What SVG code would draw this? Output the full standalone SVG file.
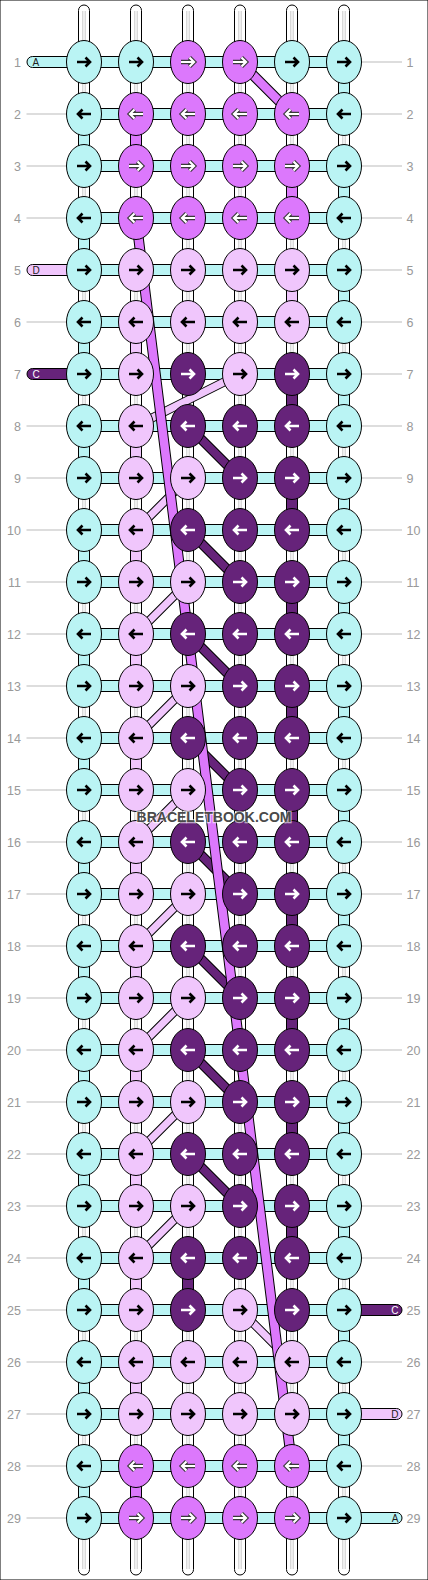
<svg xmlns="http://www.w3.org/2000/svg" xmlns:xlink="http://www.w3.org/1999/xlink" width="428" height="1580" viewBox="0 0 428 1580">
<style>
.cy{fill:#baf4f4}.mp{fill:#dc78fc}.lp{fill:#f0c6fc}.dp{fill:#66237a}.w{fill:#fff}
ellipse,rect{stroke:#000;stroke-width:1}
.gl{fill:none;stroke:#c8c8c8;stroke-width:1}
.ab{fill:none;stroke:#000;stroke-width:2.6}
.aw{fill:none;stroke:#fff;stroke-width:2.6}
.ao{fill:none;stroke:#3a3a3a;stroke-width:4.4}
.am{fill:none;stroke:#fff;stroke-width:2.2}
.o9{fill:none;stroke:#000;stroke-width:9}.lps{fill:none;stroke:#f0c6fc;stroke-width:7}
.o10{fill:none;stroke:#000;stroke-width:10}.dps{fill:none;stroke:#66237a;stroke-width:8}
.o105{fill:none;stroke:#000;stroke-width:10.5}.mps{fill:none;stroke:#dc78fc;stroke-width:8.5}
.num{font-family:"Liberation Sans",Arial,sans-serif;font-size:12.5px;fill:#999}
.tick{fill:none;stroke:#bbb;stroke-width:1}
.pl{font-family:"Liberation Sans",Arial,sans-serif;font-size:10px;fill:#222}
.plw{font-family:"Liberation Sans",Arial,sans-serif;font-size:10px;fill:#fff}
.wm{font-family:"Liberation Sans",Arial,sans-serif;font-size:15px;font-weight:bold;fill:#4a4a4a;stroke:#fff;stroke-opacity:.6;stroke-width:2.5;paint-order:stroke}
</style>
<defs>
<path id="Rb" class="ab" d="M-7 0H5M1.5-4.5L6 0L1.5 4.5"/>
<path id="Lb" class="ab" d="M7 0H-5M-1.5-4.5L-6 0L-1.5 4.5"/>
<path id="Rw" class="aw" d="M-7 0H5M1.5-4.5L6 0L1.5 4.5"/>
<path id="Lw" class="aw" d="M7 0H-5M-1.5-4.5L-6 0L-1.5 4.5"/>
<g id="Rm"><path class="ao" d="M-7 0H5M1.5-4.5L6 0L1.5 4.5"/><path class="am" d="M-7 0H5M1.5-4.5L6 0L1.5 4.5"/></g>
<g id="Lm"><path class="ao" d="M7 0H-5M-1.5-4.5L-6 0L-1.5 4.5"/><path class="am" d="M7 0H-5M-1.5-4.5L-6 0L-1.5 4.5"/></g>
<path id="dpd" d="M188 426L240 478M188 530L240 582M188 634L240 686M188 738L240 790M188 842L240 894M188 946L240 998M188 1050L240 1102M188 1154L240 1206"/>
<path id="lpd" d="M240 374L136 426M188 478L136 530M188 582L136 634M188 686L136 738M188 790L136 842M188 894L136 946M188 998L136 1050M188 1102L136 1154M188 1206L136 1258M240 1310L292 1362"/>
<path id="mpd" d="M240 62L292 114M136 218L292 1466"/>
</defs>
<rect x="0" y="0" width="428" height="1580" fill="#fff" stroke="none"/>
<g id="labels">
<path class="tick" d="M26.5 114H66.5M26.5 166H66.5M26.5 218H66.5M26.5 322H66.5M26.5 426H66.5M26.5 478H66.5M26.5 530H66.5M26.5 582H66.5M26.5 634H66.5M26.5 686H66.5M26.5 738H66.5M26.5 790H66.5M26.5 842H66.5M26.5 894H66.5M26.5 946H66.5M26.5 998H66.5M26.5 1050H66.5M26.5 1102H66.5M26.5 1154H66.5M26.5 1206H66.5M26.5 1258H66.5M26.5 1310H66.5M26.5 1362H66.5M26.5 1414H66.5M26.5 1466H66.5M26.5 1518H66.5"/>
<path class="tick" d="M361.5 62H402M361.5 114H402M361.5 166H402M361.5 218H402M361.5 270H402M361.5 322H402M361.5 374H402M361.5 426H402M361.5 478H402M361.5 530H402M361.5 582H402M361.5 634H402M361.5 686H402M361.5 738H402M361.5 790H402M361.5 842H402M361.5 894H402M361.5 946H402M361.5 998H402M361.5 1050H402M361.5 1102H402M361.5 1154H402M361.5 1206H402M361.5 1258H402M361.5 1362H402M361.5 1466H402"/>
<g class="num" text-anchor="end">
<text x="21" y="66.5">1</text><text x="21" y="118.5">2</text><text x="21" y="170.5">3</text><text x="21" y="222.5">4</text><text x="21" y="274.5">5</text><text x="21" y="326.5">6</text><text x="21" y="378.5">7</text><text x="21" y="430.5">8</text><text x="21" y="482.5">9</text><text x="21" y="534.5">10</text><text x="21" y="586.5">11</text><text x="21" y="638.5">12</text><text x="21" y="690.5">13</text><text x="21" y="742.5">14</text><text x="21" y="794.5">15</text><text x="21" y="846.5">16</text><text x="21" y="898.5">17</text><text x="21" y="950.5">18</text><text x="21" y="1002.5">19</text><text x="21" y="1054.5">20</text><text x="21" y="1106.5">21</text><text x="21" y="1158.5">22</text><text x="21" y="1210.5">23</text><text x="21" y="1262.5">24</text><text x="21" y="1314.5">25</text><text x="21" y="1366.5">26</text><text x="21" y="1418.5">27</text><text x="21" y="1470.5">28</text><text x="21" y="1522.5">29</text>
</g>
<g class="num">
<text x="406.5" y="66.5">1</text><text x="406.5" y="118.5">2</text><text x="406.5" y="170.5">3</text><text x="406.5" y="222.5">4</text><text x="406.5" y="274.5">5</text><text x="406.5" y="326.5">6</text><text x="406.5" y="378.5">7</text><text x="406.5" y="430.5">8</text><text x="406.5" y="482.5">9</text><text x="406.5" y="534.5">10</text><text x="406.5" y="586.5">11</text><text x="406.5" y="638.5">12</text><text x="406.5" y="690.5">13</text><text x="406.5" y="742.5">14</text><text x="406.5" y="794.5">15</text><text x="406.5" y="846.5">16</text><text x="406.5" y="898.5">17</text><text x="406.5" y="950.5">18</text><text x="406.5" y="1002.5">19</text><text x="406.5" y="1054.5">20</text><text x="406.5" y="1106.5">21</text><text x="406.5" y="1158.5">22</text><text x="406.5" y="1210.5">23</text><text x="406.5" y="1262.5">24</text><text x="406.5" y="1314.5">25</text><text x="406.5" y="1366.5">26</text><text x="406.5" y="1418.5">27</text><text x="406.5" y="1470.5">28</text><text x="406.5" y="1522.5">29</text>
</g>
</g>
<g id="connectors">
<g id="warps">
<rect class="w" x="78.5" y="5" width="11" height="1570" rx="5.5"/>
<rect class="w" x="130.5" y="5" width="11" height="213" rx="5.5"/>
<rect class="w" x="130.5" y="270" width="11" height="1305" rx="5.5"/>
<rect class="w" x="182.5" y="5" width="11" height="1570" rx="5.5"/>
<rect class="w" x="234.5" y="5" width="11" height="1570" rx="5.5"/>
<rect class="w" x="286.5" y="5" width="11" height="1409" rx="5.5"/>
<rect class="w" x="286.5" y="1466" width="11" height="109" rx="5.5"/>
<rect class="w" x="338.5" y="5" width="11" height="1570" rx="5.5"/>
<path class="gl" d="M82.8 11V1569M85.2 11V1569M134.8 11V1569M137.2 11V1569M186.8 11V1569M189.2 11V1569M238.8 11V1569M241.2 11V1569M290.8 11V1569M293.2 11V1569M342.8 11V1569M345.2 11V1569"/>
</g>
<g id="rows" class="cy">
<rect x="84" y="56.5" width="260" height="11"/><rect x="84" y="108.5" width="260" height="11"/><rect x="84" y="160.5" width="260" height="11"/><rect x="84" y="212.5" width="260" height="11"/><rect x="84" y="264.5" width="260" height="11"/><rect x="84" y="316.5" width="260" height="11"/><rect x="84" y="368.5" width="260" height="11"/><rect x="84" y="420.5" width="260" height="11"/><rect x="84" y="472.5" width="260" height="11"/><rect x="84" y="524.5" width="260" height="11"/><rect x="84" y="576.5" width="260" height="11"/><rect x="84" y="628.5" width="260" height="11"/><rect x="84" y="680.5" width="260" height="11"/><rect x="84" y="732.5" width="260" height="11"/><rect x="84" y="784.5" width="260" height="11"/><rect x="84" y="836.5" width="260" height="11"/><rect x="84" y="888.5" width="260" height="11"/><rect x="84" y="940.5" width="260" height="11"/><rect x="84" y="992.5" width="260" height="11"/><rect x="84" y="1044.5" width="260" height="11"/><rect x="84" y="1096.5" width="260" height="11"/><rect x="84" y="1148.5" width="260" height="11"/><rect x="84" y="1200.5" width="260" height="11"/><rect x="84" y="1252.5" width="260" height="11"/><rect x="84" y="1304.5" width="260" height="11"/><rect x="84" y="1356.5" width="260" height="11"/><rect x="84" y="1408.5" width="260" height="11"/><rect x="84" y="1460.5" width="260" height="11"/><rect x="84" y="1512.5" width="260" height="11"/>
</g>
<g id="turns-cy" class="cy">
<rect x="338.5" y="62" width="11" height="52"/><rect x="338.5" y="166" width="11" height="52"/><rect x="338.5" y="270" width="11" height="52"/><rect x="338.5" y="374" width="11" height="52"/><rect x="338.5" y="478" width="11" height="52"/><rect x="338.5" y="582" width="11" height="52"/><rect x="338.5" y="686" width="11" height="52"/><rect x="338.5" y="790" width="11" height="52"/><rect x="338.5" y="894" width="11" height="52"/><rect x="338.5" y="998" width="11" height="52"/><rect x="338.5" y="1102" width="11" height="52"/><rect x="338.5" y="1206" width="11" height="52"/><rect x="338.5" y="1310" width="11" height="52"/><rect x="338.5" y="1414" width="11" height="52"/>
<rect x="78.5" y="114" width="11" height="52"/><rect x="78.5" y="218" width="11" height="52"/><rect x="78.5" y="322" width="11" height="52"/><rect x="78.5" y="426" width="11" height="52"/><rect x="78.5" y="530" width="11" height="52"/><rect x="78.5" y="634" width="11" height="52"/><rect x="78.5" y="738" width="11" height="52"/><rect x="78.5" y="842" width="11" height="52"/><rect x="78.5" y="946" width="11" height="52"/><rect x="78.5" y="1050" width="11" height="52"/><rect x="78.5" y="1154" width="11" height="52"/><rect x="78.5" y="1258" width="11" height="52"/><rect x="78.5" y="1362" width="11" height="52"/><rect x="78.5" y="1466" width="11" height="52"/>
</g>
<g id="turns-mp" class="mp">
<rect x="130.5" y="114" width="11" height="52"/><rect x="286.5" y="166" width="11" height="52"/><rect x="130.5" y="1466" width="11" height="52"/>
</g>
<g id="turns-lp" class="lp">
<rect x="286.5" y="270" width="11" height="52"/><rect x="130.5" y="322" width="11" height="52"/><rect x="130.5" y="426" width="11" height="52"/><rect x="130.5" y="530" width="11" height="52"/><rect x="130.5" y="634" width="11" height="52"/><rect x="130.5" y="738" width="11" height="52"/><rect x="130.5" y="842" width="11" height="52"/><rect x="130.5" y="946" width="11" height="52"/><rect x="130.5" y="1050" width="11" height="52"/><rect x="130.5" y="1154" width="11" height="52"/><rect x="130.5" y="1258" width="11" height="52"/><rect x="130.5" y="1362" width="11" height="52"/>
</g>
<g id="turns-dp" class="dp">
<rect x="286.5" y="374" width="11" height="52"/><rect x="286.5" y="478" width="11" height="52"/><rect x="286.5" y="582" width="11" height="52"/><rect x="286.5" y="686" width="11" height="52"/><rect x="286.5" y="790" width="11" height="52"/><rect x="286.5" y="894" width="11" height="52"/><rect x="286.5" y="998" width="11" height="52"/><rect x="286.5" y="1102" width="11" height="52"/><rect x="286.5" y="1206" width="11" height="52"/><rect x="182.5" y="1258" width="11" height="52"/>
</g>
<g id="diagonals">
<use href="#lpd" class="o9"/><use href="#lpd" class="lps"/>
<use href="#dpd" class="o10"/><use href="#dpd" class="dps"/>
<use href="#mpd" class="o105"/><use href="#mpd" class="mps"/>
</g>
<g id="ends">
<rect class="cy" x="27" y="56.5" width="50" height="11" rx="5.5"/><text class="pl" x="32.5" y="65.6">A</text>
<rect class="lp" x="27" y="264.5" width="50" height="11" rx="5.5"/><text class="pl" x="32.5" y="273.6">D</text>
<rect class="dp" x="27" y="368.5" width="50" height="11" rx="5.5"/><text class="plw" x="32.5" y="377.6">C</text>
<rect class="dp" x="351" y="1304.5" width="51" height="11" rx="5.5"/><text class="plw" x="398.5" y="1313.6" text-anchor="end">C</text>
<rect class="lp" x="351" y="1408.5" width="51" height="11" rx="5.5"/><text class="pl" x="398.5" y="1417.6" text-anchor="end">D</text>
<rect class="cy" x="351" y="1512.5" width="51" height="11" rx="5.5"/><text class="pl" x="398.5" y="1521.6" text-anchor="end">A</text>
</g>
</g>
<g id="knots">
<g id="n1-1" transform="translate(84 62)"><ellipse class="cy" rx="17.5" ry="21.5"/><use href="#Rb"/></g>
<g id="n1-2" transform="translate(136 62)"><ellipse class="cy" rx="17.5" ry="21.5"/><use href="#Rb"/></g>
<g id="n1-3" transform="translate(188 62)"><ellipse class="mp" rx="17.5" ry="21.5"/><use href="#Rm"/></g>
<g id="n1-4" transform="translate(240 62)"><ellipse class="mp" rx="17.5" ry="21.5"/><use href="#Rm"/></g>
<g id="n1-5" transform="translate(292 62)"><ellipse class="cy" rx="17.5" ry="21.5"/><use href="#Rb"/></g>
<g id="n1-6" transform="translate(344 62)"><ellipse class="cy" rx="17.5" ry="21.5"/><use href="#Rb"/></g>
<g id="n2-1" transform="translate(84 114)"><ellipse class="cy" rx="17.5" ry="21.5"/><use href="#Lb"/></g>
<g id="n2-2" transform="translate(136 114)"><ellipse class="mp" rx="17.5" ry="21.5"/><use href="#Lm"/></g>
<g id="n2-3" transform="translate(188 114)"><ellipse class="mp" rx="17.5" ry="21.5"/><use href="#Lm"/></g>
<g id="n2-4" transform="translate(240 114)"><ellipse class="mp" rx="17.5" ry="21.5"/><use href="#Lm"/></g>
<g id="n2-5" transform="translate(292 114)"><ellipse class="mp" rx="17.5" ry="21.5"/><use href="#Lm"/></g>
<g id="n2-6" transform="translate(344 114)"><ellipse class="cy" rx="17.5" ry="21.5"/><use href="#Lb"/></g>
<g id="n3-1" transform="translate(84 166)"><ellipse class="cy" rx="17.5" ry="21.5"/><use href="#Rb"/></g>
<g id="n3-2" transform="translate(136 166)"><ellipse class="mp" rx="17.5" ry="21.5"/><use href="#Rm"/></g>
<g id="n3-3" transform="translate(188 166)"><ellipse class="mp" rx="17.5" ry="21.5"/><use href="#Rm"/></g>
<g id="n3-4" transform="translate(240 166)"><ellipse class="mp" rx="17.5" ry="21.5"/><use href="#Rm"/></g>
<g id="n3-5" transform="translate(292 166)"><ellipse class="mp" rx="17.5" ry="21.5"/><use href="#Rm"/></g>
<g id="n3-6" transform="translate(344 166)"><ellipse class="cy" rx="17.5" ry="21.5"/><use href="#Rb"/></g>
<g id="n4-1" transform="translate(84 218)"><ellipse class="cy" rx="17.5" ry="21.5"/><use href="#Lb"/></g>
<g id="n4-2" transform="translate(136 218)"><ellipse class="mp" rx="17.5" ry="21.5"/><use href="#Lm"/></g>
<g id="n4-3" transform="translate(188 218)"><ellipse class="mp" rx="17.5" ry="21.5"/><use href="#Lm"/></g>
<g id="n4-4" transform="translate(240 218)"><ellipse class="mp" rx="17.5" ry="21.5"/><use href="#Lm"/></g>
<g id="n4-5" transform="translate(292 218)"><ellipse class="mp" rx="17.5" ry="21.5"/><use href="#Lm"/></g>
<g id="n4-6" transform="translate(344 218)"><ellipse class="cy" rx="17.5" ry="21.5"/><use href="#Lb"/></g>
<g id="n5-1" transform="translate(84 270)"><ellipse class="cy" rx="17.5" ry="21.5"/><use href="#Rb"/></g>
<g id="n5-2" transform="translate(136 270)"><ellipse class="lp" rx="17.5" ry="21.5"/><use href="#Rb"/></g>
<g id="n5-3" transform="translate(188 270)"><ellipse class="lp" rx="17.5" ry="21.5"/><use href="#Rb"/></g>
<g id="n5-4" transform="translate(240 270)"><ellipse class="lp" rx="17.5" ry="21.5"/><use href="#Rb"/></g>
<g id="n5-5" transform="translate(292 270)"><ellipse class="lp" rx="17.5" ry="21.5"/><use href="#Rb"/></g>
<g id="n5-6" transform="translate(344 270)"><ellipse class="cy" rx="17.5" ry="21.5"/><use href="#Rb"/></g>
<g id="n6-1" transform="translate(84 322)"><ellipse class="cy" rx="17.5" ry="21.5"/><use href="#Lb"/></g>
<g id="n6-2" transform="translate(136 322)"><ellipse class="lp" rx="17.5" ry="21.5"/><use href="#Lb"/></g>
<g id="n6-3" transform="translate(188 322)"><ellipse class="lp" rx="17.5" ry="21.5"/><use href="#Lb"/></g>
<g id="n6-4" transform="translate(240 322)"><ellipse class="lp" rx="17.5" ry="21.5"/><use href="#Lb"/></g>
<g id="n6-5" transform="translate(292 322)"><ellipse class="lp" rx="17.5" ry="21.5"/><use href="#Lb"/></g>
<g id="n6-6" transform="translate(344 322)"><ellipse class="cy" rx="17.5" ry="21.5"/><use href="#Lb"/></g>
<g id="n7-1" transform="translate(84 374)"><ellipse class="cy" rx="17.5" ry="21.5"/><use href="#Rb"/></g>
<g id="n7-2" transform="translate(136 374)"><ellipse class="lp" rx="17.5" ry="21.5"/><use href="#Rb"/></g>
<g id="n7-3" transform="translate(188 374)"><ellipse class="dp" rx="17.5" ry="21.5"/><use href="#Rw"/></g>
<g id="n7-4" transform="translate(240 374)"><ellipse class="lp" rx="17.5" ry="21.5"/><use href="#Rb"/></g>
<g id="n7-5" transform="translate(292 374)"><ellipse class="dp" rx="17.5" ry="21.5"/><use href="#Rw"/></g>
<g id="n7-6" transform="translate(344 374)"><ellipse class="cy" rx="17.5" ry="21.5"/><use href="#Rb"/></g>
<g id="n8-1" transform="translate(84 426)"><ellipse class="cy" rx="17.5" ry="21.5"/><use href="#Lb"/></g>
<g id="n8-2" transform="translate(136 426)"><ellipse class="lp" rx="17.5" ry="21.5"/><use href="#Lb"/></g>
<g id="n8-3" transform="translate(188 426)"><ellipse class="dp" rx="17.5" ry="21.5"/><use href="#Lw"/></g>
<g id="n8-4" transform="translate(240 426)"><ellipse class="dp" rx="17.5" ry="21.5"/><use href="#Lw"/></g>
<g id="n8-5" transform="translate(292 426)"><ellipse class="dp" rx="17.5" ry="21.5"/><use href="#Lw"/></g>
<g id="n8-6" transform="translate(344 426)"><ellipse class="cy" rx="17.5" ry="21.5"/><use href="#Lb"/></g>
<g id="n9-1" transform="translate(84 478)"><ellipse class="cy" rx="17.5" ry="21.5"/><use href="#Rb"/></g>
<g id="n9-2" transform="translate(136 478)"><ellipse class="lp" rx="17.5" ry="21.5"/><use href="#Rb"/></g>
<g id="n9-3" transform="translate(188 478)"><ellipse class="lp" rx="17.5" ry="21.5"/><use href="#Rb"/></g>
<g id="n9-4" transform="translate(240 478)"><ellipse class="dp" rx="17.5" ry="21.5"/><use href="#Rw"/></g>
<g id="n9-5" transform="translate(292 478)"><ellipse class="dp" rx="17.5" ry="21.5"/><use href="#Rw"/></g>
<g id="n9-6" transform="translate(344 478)"><ellipse class="cy" rx="17.5" ry="21.5"/><use href="#Rb"/></g>
<g id="n10-1" transform="translate(84 530)"><ellipse class="cy" rx="17.5" ry="21.5"/><use href="#Lb"/></g>
<g id="n10-2" transform="translate(136 530)"><ellipse class="lp" rx="17.5" ry="21.5"/><use href="#Lb"/></g>
<g id="n10-3" transform="translate(188 530)"><ellipse class="dp" rx="17.5" ry="21.5"/><use href="#Lw"/></g>
<g id="n10-4" transform="translate(240 530)"><ellipse class="dp" rx="17.5" ry="21.5"/><use href="#Lw"/></g>
<g id="n10-5" transform="translate(292 530)"><ellipse class="dp" rx="17.5" ry="21.5"/><use href="#Lw"/></g>
<g id="n10-6" transform="translate(344 530)"><ellipse class="cy" rx="17.5" ry="21.5"/><use href="#Lb"/></g>
<g id="n11-1" transform="translate(84 582)"><ellipse class="cy" rx="17.5" ry="21.5"/><use href="#Rb"/></g>
<g id="n11-2" transform="translate(136 582)"><ellipse class="lp" rx="17.5" ry="21.5"/><use href="#Rb"/></g>
<g id="n11-3" transform="translate(188 582)"><ellipse class="lp" rx="17.5" ry="21.5"/><use href="#Rb"/></g>
<g id="n11-4" transform="translate(240 582)"><ellipse class="dp" rx="17.5" ry="21.5"/><use href="#Rw"/></g>
<g id="n11-5" transform="translate(292 582)"><ellipse class="dp" rx="17.5" ry="21.5"/><use href="#Rw"/></g>
<g id="n11-6" transform="translate(344 582)"><ellipse class="cy" rx="17.5" ry="21.5"/><use href="#Rb"/></g>
<g id="n12-1" transform="translate(84 634)"><ellipse class="cy" rx="17.5" ry="21.5"/><use href="#Lb"/></g>
<g id="n12-2" transform="translate(136 634)"><ellipse class="lp" rx="17.5" ry="21.5"/><use href="#Lb"/></g>
<g id="n12-3" transform="translate(188 634)"><ellipse class="dp" rx="17.5" ry="21.5"/><use href="#Lw"/></g>
<g id="n12-4" transform="translate(240 634)"><ellipse class="dp" rx="17.5" ry="21.5"/><use href="#Lw"/></g>
<g id="n12-5" transform="translate(292 634)"><ellipse class="dp" rx="17.5" ry="21.5"/><use href="#Lw"/></g>
<g id="n12-6" transform="translate(344 634)"><ellipse class="cy" rx="17.5" ry="21.5"/><use href="#Lb"/></g>
<g id="n13-1" transform="translate(84 686)"><ellipse class="cy" rx="17.5" ry="21.5"/><use href="#Rb"/></g>
<g id="n13-2" transform="translate(136 686)"><ellipse class="lp" rx="17.5" ry="21.5"/><use href="#Rb"/></g>
<g id="n13-3" transform="translate(188 686)"><ellipse class="lp" rx="17.5" ry="21.5"/><use href="#Rb"/></g>
<g id="n13-4" transform="translate(240 686)"><ellipse class="dp" rx="17.5" ry="21.5"/><use href="#Rw"/></g>
<g id="n13-5" transform="translate(292 686)"><ellipse class="dp" rx="17.5" ry="21.5"/><use href="#Rw"/></g>
<g id="n13-6" transform="translate(344 686)"><ellipse class="cy" rx="17.5" ry="21.5"/><use href="#Rb"/></g>
<g id="n14-1" transform="translate(84 738)"><ellipse class="cy" rx="17.5" ry="21.5"/><use href="#Lb"/></g>
<g id="n14-2" transform="translate(136 738)"><ellipse class="lp" rx="17.5" ry="21.5"/><use href="#Lb"/></g>
<g id="n14-3" transform="translate(188 738)"><ellipse class="dp" rx="17.5" ry="21.5"/><use href="#Lw"/></g>
<g id="n14-4" transform="translate(240 738)"><ellipse class="dp" rx="17.5" ry="21.5"/><use href="#Lw"/></g>
<g id="n14-5" transform="translate(292 738)"><ellipse class="dp" rx="17.5" ry="21.5"/><use href="#Lw"/></g>
<g id="n14-6" transform="translate(344 738)"><ellipse class="cy" rx="17.5" ry="21.5"/><use href="#Lb"/></g>
<g id="n15-1" transform="translate(84 790)"><ellipse class="cy" rx="17.5" ry="21.5"/><use href="#Rb"/></g>
<g id="n15-2" transform="translate(136 790)"><ellipse class="lp" rx="17.5" ry="21.5"/><use href="#Rb"/></g>
<g id="n15-3" transform="translate(188 790)"><ellipse class="lp" rx="17.5" ry="21.5"/><use href="#Rb"/></g>
<g id="n15-4" transform="translate(240 790)"><ellipse class="dp" rx="17.5" ry="21.5"/><use href="#Rw"/></g>
<g id="n15-5" transform="translate(292 790)"><ellipse class="dp" rx="17.5" ry="21.5"/><use href="#Rw"/></g>
<g id="n15-6" transform="translate(344 790)"><ellipse class="cy" rx="17.5" ry="21.5"/><use href="#Rb"/></g>
<g id="n16-1" transform="translate(84 842)"><ellipse class="cy" rx="17.5" ry="21.5"/><use href="#Lb"/></g>
<g id="n16-2" transform="translate(136 842)"><ellipse class="lp" rx="17.5" ry="21.5"/><use href="#Lb"/></g>
<g id="n16-3" transform="translate(188 842)"><ellipse class="dp" rx="17.5" ry="21.5"/><use href="#Lw"/></g>
<g id="n16-4" transform="translate(240 842)"><ellipse class="dp" rx="17.5" ry="21.5"/><use href="#Lw"/></g>
<g id="n16-5" transform="translate(292 842)"><ellipse class="dp" rx="17.5" ry="21.5"/><use href="#Lw"/></g>
<g id="n16-6" transform="translate(344 842)"><ellipse class="cy" rx="17.5" ry="21.5"/><use href="#Lb"/></g>
<g id="n17-1" transform="translate(84 894)"><ellipse class="cy" rx="17.5" ry="21.5"/><use href="#Rb"/></g>
<g id="n17-2" transform="translate(136 894)"><ellipse class="lp" rx="17.5" ry="21.5"/><use href="#Rb"/></g>
<g id="n17-3" transform="translate(188 894)"><ellipse class="lp" rx="17.5" ry="21.5"/><use href="#Rb"/></g>
<g id="n17-4" transform="translate(240 894)"><ellipse class="dp" rx="17.5" ry="21.5"/><use href="#Rw"/></g>
<g id="n17-5" transform="translate(292 894)"><ellipse class="dp" rx="17.5" ry="21.5"/><use href="#Rw"/></g>
<g id="n17-6" transform="translate(344 894)"><ellipse class="cy" rx="17.5" ry="21.5"/><use href="#Rb"/></g>
<g id="n18-1" transform="translate(84 946)"><ellipse class="cy" rx="17.5" ry="21.5"/><use href="#Lb"/></g>
<g id="n18-2" transform="translate(136 946)"><ellipse class="lp" rx="17.5" ry="21.5"/><use href="#Lb"/></g>
<g id="n18-3" transform="translate(188 946)"><ellipse class="dp" rx="17.5" ry="21.5"/><use href="#Lw"/></g>
<g id="n18-4" transform="translate(240 946)"><ellipse class="dp" rx="17.5" ry="21.5"/><use href="#Lw"/></g>
<g id="n18-5" transform="translate(292 946)"><ellipse class="dp" rx="17.5" ry="21.5"/><use href="#Lw"/></g>
<g id="n18-6" transform="translate(344 946)"><ellipse class="cy" rx="17.5" ry="21.5"/><use href="#Lb"/></g>
<g id="n19-1" transform="translate(84 998)"><ellipse class="cy" rx="17.5" ry="21.5"/><use href="#Rb"/></g>
<g id="n19-2" transform="translate(136 998)"><ellipse class="lp" rx="17.5" ry="21.5"/><use href="#Rb"/></g>
<g id="n19-3" transform="translate(188 998)"><ellipse class="lp" rx="17.5" ry="21.5"/><use href="#Rb"/></g>
<g id="n19-4" transform="translate(240 998)"><ellipse class="dp" rx="17.5" ry="21.5"/><use href="#Rw"/></g>
<g id="n19-5" transform="translate(292 998)"><ellipse class="dp" rx="17.5" ry="21.5"/><use href="#Rw"/></g>
<g id="n19-6" transform="translate(344 998)"><ellipse class="cy" rx="17.5" ry="21.5"/><use href="#Rb"/></g>
<g id="n20-1" transform="translate(84 1050)"><ellipse class="cy" rx="17.5" ry="21.5"/><use href="#Lb"/></g>
<g id="n20-2" transform="translate(136 1050)"><ellipse class="lp" rx="17.5" ry="21.5"/><use href="#Lb"/></g>
<g id="n20-3" transform="translate(188 1050)"><ellipse class="dp" rx="17.5" ry="21.5"/><use href="#Lw"/></g>
<g id="n20-4" transform="translate(240 1050)"><ellipse class="dp" rx="17.5" ry="21.5"/><use href="#Lw"/></g>
<g id="n20-5" transform="translate(292 1050)"><ellipse class="dp" rx="17.5" ry="21.5"/><use href="#Lw"/></g>
<g id="n20-6" transform="translate(344 1050)"><ellipse class="cy" rx="17.5" ry="21.5"/><use href="#Lb"/></g>
<g id="n21-1" transform="translate(84 1102)"><ellipse class="cy" rx="17.5" ry="21.5"/><use href="#Rb"/></g>
<g id="n21-2" transform="translate(136 1102)"><ellipse class="lp" rx="17.5" ry="21.5"/><use href="#Rb"/></g>
<g id="n21-3" transform="translate(188 1102)"><ellipse class="lp" rx="17.5" ry="21.5"/><use href="#Rb"/></g>
<g id="n21-4" transform="translate(240 1102)"><ellipse class="dp" rx="17.5" ry="21.5"/><use href="#Rw"/></g>
<g id="n21-5" transform="translate(292 1102)"><ellipse class="dp" rx="17.5" ry="21.5"/><use href="#Rw"/></g>
<g id="n21-6" transform="translate(344 1102)"><ellipse class="cy" rx="17.5" ry="21.5"/><use href="#Rb"/></g>
<g id="n22-1" transform="translate(84 1154)"><ellipse class="cy" rx="17.5" ry="21.5"/><use href="#Lb"/></g>
<g id="n22-2" transform="translate(136 1154)"><ellipse class="lp" rx="17.5" ry="21.5"/><use href="#Lb"/></g>
<g id="n22-3" transform="translate(188 1154)"><ellipse class="dp" rx="17.5" ry="21.5"/><use href="#Lw"/></g>
<g id="n22-4" transform="translate(240 1154)"><ellipse class="dp" rx="17.5" ry="21.5"/><use href="#Lw"/></g>
<g id="n22-5" transform="translate(292 1154)"><ellipse class="dp" rx="17.5" ry="21.5"/><use href="#Lw"/></g>
<g id="n22-6" transform="translate(344 1154)"><ellipse class="cy" rx="17.5" ry="21.5"/><use href="#Lb"/></g>
<g id="n23-1" transform="translate(84 1206)"><ellipse class="cy" rx="17.5" ry="21.5"/><use href="#Rb"/></g>
<g id="n23-2" transform="translate(136 1206)"><ellipse class="lp" rx="17.5" ry="21.5"/><use href="#Rb"/></g>
<g id="n23-3" transform="translate(188 1206)"><ellipse class="lp" rx="17.5" ry="21.5"/><use href="#Rb"/></g>
<g id="n23-4" transform="translate(240 1206)"><ellipse class="dp" rx="17.5" ry="21.5"/><use href="#Rw"/></g>
<g id="n23-5" transform="translate(292 1206)"><ellipse class="dp" rx="17.5" ry="21.5"/><use href="#Rw"/></g>
<g id="n23-6" transform="translate(344 1206)"><ellipse class="cy" rx="17.5" ry="21.5"/><use href="#Rb"/></g>
<g id="n24-1" transform="translate(84 1258)"><ellipse class="cy" rx="17.5" ry="21.5"/><use href="#Lb"/></g>
<g id="n24-2" transform="translate(136 1258)"><ellipse class="lp" rx="17.5" ry="21.5"/><use href="#Lb"/></g>
<g id="n24-3" transform="translate(188 1258)"><ellipse class="dp" rx="17.5" ry="21.5"/><use href="#Lw"/></g>
<g id="n24-4" transform="translate(240 1258)"><ellipse class="dp" rx="17.5" ry="21.5"/><use href="#Lw"/></g>
<g id="n24-5" transform="translate(292 1258)"><ellipse class="dp" rx="17.5" ry="21.5"/><use href="#Lw"/></g>
<g id="n24-6" transform="translate(344 1258)"><ellipse class="cy" rx="17.5" ry="21.5"/><use href="#Lb"/></g>
<g id="n25-1" transform="translate(84 1310)"><ellipse class="cy" rx="17.5" ry="21.5"/><use href="#Rb"/></g>
<g id="n25-2" transform="translate(136 1310)"><ellipse class="lp" rx="17.5" ry="21.5"/><use href="#Rb"/></g>
<g id="n25-3" transform="translate(188 1310)"><ellipse class="dp" rx="17.5" ry="21.5"/><use href="#Rw"/></g>
<g id="n25-4" transform="translate(240 1310)"><ellipse class="lp" rx="17.5" ry="21.5"/><use href="#Rb"/></g>
<g id="n25-5" transform="translate(292 1310)"><ellipse class="dp" rx="17.5" ry="21.5"/><use href="#Rw"/></g>
<g id="n25-6" transform="translate(344 1310)"><ellipse class="cy" rx="17.5" ry="21.5"/><use href="#Rb"/></g>
<g id="n26-1" transform="translate(84 1362)"><ellipse class="cy" rx="17.5" ry="21.5"/><use href="#Lb"/></g>
<g id="n26-2" transform="translate(136 1362)"><ellipse class="lp" rx="17.5" ry="21.5"/><use href="#Lb"/></g>
<g id="n26-3" transform="translate(188 1362)"><ellipse class="lp" rx="17.5" ry="21.5"/><use href="#Lb"/></g>
<g id="n26-4" transform="translate(240 1362)"><ellipse class="lp" rx="17.5" ry="21.5"/><use href="#Lb"/></g>
<g id="n26-5" transform="translate(292 1362)"><ellipse class="lp" rx="17.5" ry="21.5"/><use href="#Lb"/></g>
<g id="n26-6" transform="translate(344 1362)"><ellipse class="cy" rx="17.5" ry="21.5"/><use href="#Lb"/></g>
<g id="n27-1" transform="translate(84 1414)"><ellipse class="cy" rx="17.5" ry="21.5"/><use href="#Rb"/></g>
<g id="n27-2" transform="translate(136 1414)"><ellipse class="lp" rx="17.5" ry="21.5"/><use href="#Rb"/></g>
<g id="n27-3" transform="translate(188 1414)"><ellipse class="lp" rx="17.5" ry="21.5"/><use href="#Rb"/></g>
<g id="n27-4" transform="translate(240 1414)"><ellipse class="lp" rx="17.5" ry="21.5"/><use href="#Rb"/></g>
<g id="n27-5" transform="translate(292 1414)"><ellipse class="lp" rx="17.5" ry="21.5"/><use href="#Rb"/></g>
<g id="n27-6" transform="translate(344 1414)"><ellipse class="cy" rx="17.5" ry="21.5"/><use href="#Rb"/></g>
<g id="n28-1" transform="translate(84 1466)"><ellipse class="cy" rx="17.5" ry="21.5"/><use href="#Lb"/></g>
<g id="n28-2" transform="translate(136 1466)"><ellipse class="mp" rx="17.5" ry="21.5"/><use href="#Lm"/></g>
<g id="n28-3" transform="translate(188 1466)"><ellipse class="mp" rx="17.5" ry="21.5"/><use href="#Lm"/></g>
<g id="n28-4" transform="translate(240 1466)"><ellipse class="mp" rx="17.5" ry="21.5"/><use href="#Lm"/></g>
<g id="n28-5" transform="translate(292 1466)"><ellipse class="mp" rx="17.5" ry="21.5"/><use href="#Lm"/></g>
<g id="n28-6" transform="translate(344 1466)"><ellipse class="cy" rx="17.5" ry="21.5"/><use href="#Lb"/></g>
<g id="n29-1" transform="translate(84 1518)"><ellipse class="cy" rx="17.5" ry="21.5"/><use href="#Rb"/></g>
<g id="n29-2" transform="translate(136 1518)"><ellipse class="mp" rx="17.5" ry="21.5"/><use href="#Rm"/></g>
<g id="n29-3" transform="translate(188 1518)"><ellipse class="mp" rx="17.5" ry="21.5"/><use href="#Rm"/></g>
<g id="n29-4" transform="translate(240 1518)"><ellipse class="mp" rx="17.5" ry="21.5"/><use href="#Rm"/></g>
<g id="n29-5" transform="translate(292 1518)"><ellipse class="mp" rx="17.5" ry="21.5"/><use href="#Rm"/></g>
<g id="n29-6" transform="translate(344 1518)"><ellipse class="cy" rx="17.5" ry="21.5"/><use href="#Rb"/></g>
</g>
<text class="wm" x="214" y="822" text-anchor="middle" textLength="155" lengthAdjust="spacingAndGlyphs">BRACELETBOOK.COM</text>
</svg>
